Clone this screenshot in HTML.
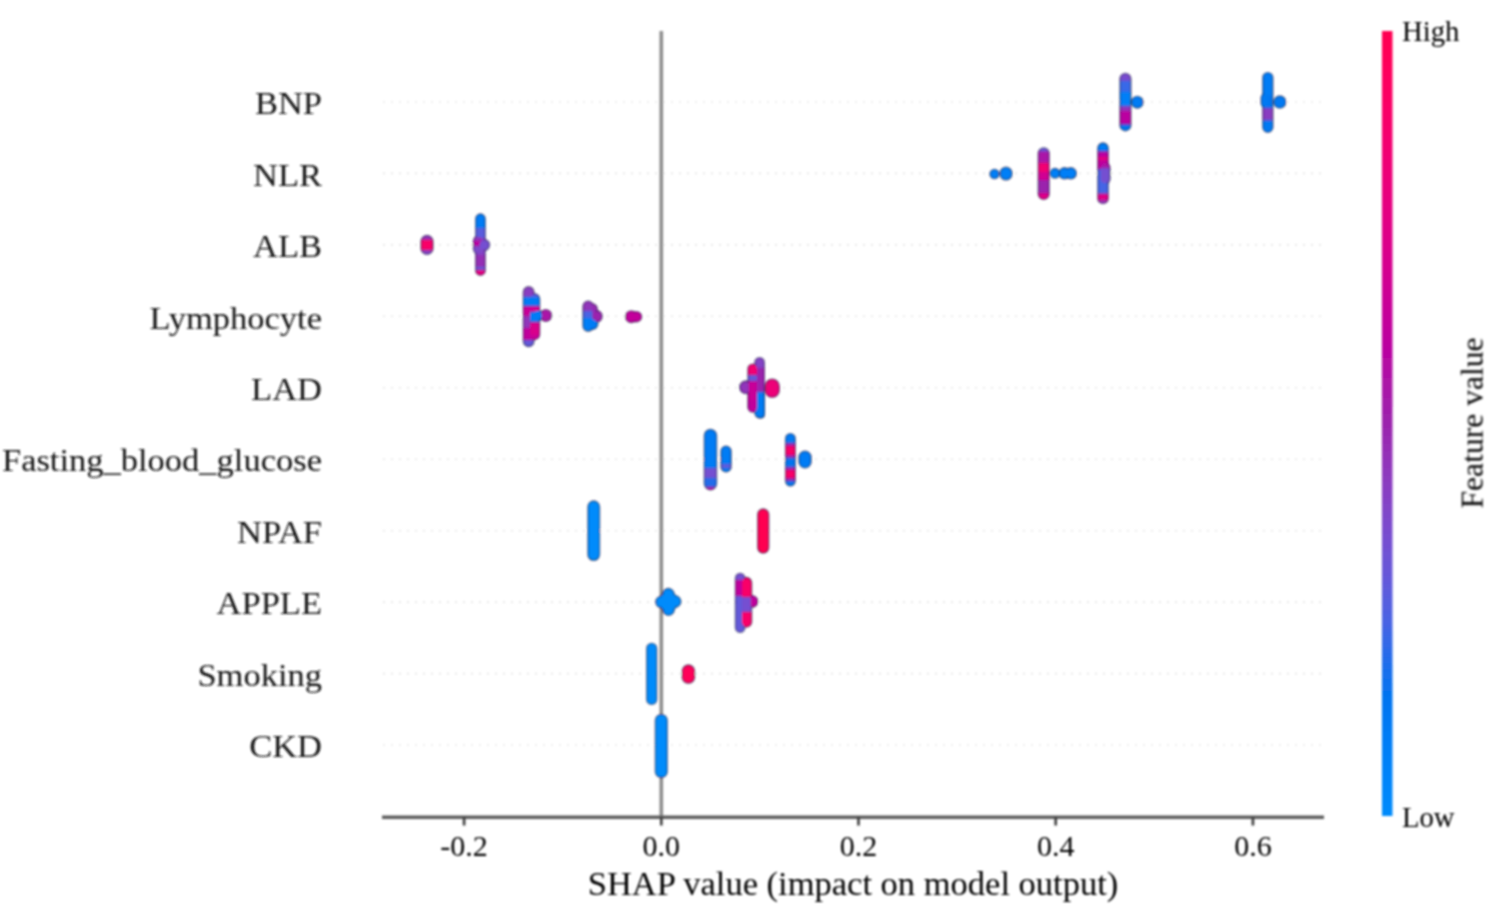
<!DOCTYPE html>
<html><head><meta charset="utf-8"><style>
html,body{margin:0;padding:0;background:#fff;}
body{width:1500px;height:920px;overflow:hidden;}
svg{display:block;font-family:"Liberation Serif",serif;}
#w{width:1500px;height:920px;}
</style></head><body><div id="w"><svg width="1500" height="920" viewBox="0 0 1500 920"><defs><filter id="bl" x="0" y="0" width="1500" height="920" filterUnits="userSpaceOnUse"><feGaussianBlur stdDeviation="1.0"/></filter></defs><rect width="1500" height="920" fill="#fff"/><g filter="url(#bl)"><line x1="383" y1="102.0" x2="1324" y2="102.0" stroke="#e6e6e6" stroke-width="1.6" stroke-dasharray="2 6"/><line x1="383" y1="173.4" x2="1324" y2="173.4" stroke="#e6e6e6" stroke-width="1.6" stroke-dasharray="2 6"/><line x1="383" y1="244.9" x2="1324" y2="244.9" stroke="#e6e6e6" stroke-width="1.6" stroke-dasharray="2 6"/><line x1="383" y1="316.3" x2="1324" y2="316.3" stroke="#e6e6e6" stroke-width="1.6" stroke-dasharray="2 6"/><line x1="383" y1="387.8" x2="1324" y2="387.8" stroke="#e6e6e6" stroke-width="1.6" stroke-dasharray="2 6"/><line x1="383" y1="459.2" x2="1324" y2="459.2" stroke="#e6e6e6" stroke-width="1.6" stroke-dasharray="2 6"/><line x1="383" y1="530.7" x2="1324" y2="530.7" stroke="#e6e6e6" stroke-width="1.6" stroke-dasharray="2 6"/><line x1="383" y1="602.1" x2="1324" y2="602.1" stroke="#e6e6e6" stroke-width="1.6" stroke-dasharray="2 6"/><line x1="383" y1="673.6" x2="1324" y2="673.6" stroke="#e6e6e6" stroke-width="1.6" stroke-dasharray="2 6"/><line x1="383" y1="745.0" x2="1324" y2="745.0" stroke="#e6e6e6" stroke-width="1.6" stroke-dasharray="2 6"/><line x1="661.3" y1="31" x2="661.3" y2="817" stroke="#8c8c8c" stroke-width="3.6"/><g><linearGradient id="g1" gradientUnits="userSpaceOnUse" x1="0" y1="72.7" x2="0" y2="131.4"><stop offset="0.0000" stop-color="#784ccf"/><stop offset="0.1158" stop-color="#784ccf"/><stop offset="0.1670" stop-color="#3769e8"/><stop offset="0.3032" stop-color="#3769e8"/><stop offset="0.3543" stop-color="#007ff7"/><stop offset="0.5417" stop-color="#007ff7"/><stop offset="0.5928" stop-color="#9135ba"/><stop offset="0.6269" stop-color="#9135ba"/><stop offset="0.6780" stop-color="#bb00a0"/><stop offset="0.8569" stop-color="#bb00a0"/><stop offset="0.9080" stop-color="#0074f0"/><stop offset="1.0000" stop-color="#0074f0"/></linearGradient><rect x="1120.10" y="73.50" width="10.60" height="57.10" rx="5.30" ry="5.30" fill="url(#g1)" stroke="rgba(0,0,60,0.6)" stroke-width="1.6"/><circle cx="1137.3" cy="102.2" r="5.70" fill="#007cf5" stroke="rgba(0,0,60,0.6)" stroke-width="1.6"/><linearGradient id="g2" gradientUnits="userSpaceOnUse" x1="0" y1="71.9" x2="0" y2="133"><stop offset="0.0000" stop-color="#007cf5"/><stop offset="0.3699" stop-color="#007cf5"/><stop offset="0.4190" stop-color="#0074f0"/><stop offset="0.5663" stop-color="#0074f0"/><stop offset="0.6154" stop-color="#893dc1"/><stop offset="0.7692" stop-color="#893dc1"/><stop offset="0.8183" stop-color="#0079f3"/><stop offset="1.0000" stop-color="#0079f3"/></linearGradient><rect x="1262.90" y="72.70" width="9.80" height="59.50" rx="4.90" ry="4.90" fill="url(#g2)" stroke="rgba(0,0,60,0.6)" stroke-width="1.6"/><linearGradient id="g3" gradientUnits="userSpaceOnUse" x1="0" y1="93" x2="0" y2="108"><stop offset="0.0000" stop-color="#0079f3"/><stop offset="1.0000" stop-color="#0079f3"/></linearGradient><rect x="1261.30" y="93.80" width="7.90" height="13.40" rx="3.95" ry="3.95" fill="url(#g3)" stroke="rgba(0,0,60,0.6)" stroke-width="1.6"/><circle cx="1279.8" cy="102" r="5.95" fill="#0079f3" stroke="rgba(0,0,60,0.6)" stroke-width="1.6"/><circle cx="994.5" cy="174" r="4.45" fill="#007ff7" stroke="rgba(0,0,60,0.6)" stroke-width="1.6"/><rect x="1000.20" y="167.40" width="11.60" height="12.40" rx="5.80" ry="5.80" fill="#007ff7" stroke="rgba(0,0,60,0.6)" stroke-width="1.6"/><linearGradient id="g4" gradientUnits="userSpaceOnUse" x1="0" y1="147.2" x2="0" y2="200.1"><stop offset="0.0000" stop-color="#6359da"/><stop offset="0.0510" stop-color="#6359da"/><stop offset="0.1078" stop-color="#ab15a7"/><stop offset="0.2703" stop-color="#ab15a7"/><stop offset="0.3270" stop-color="#f20072"/><stop offset="0.4405" stop-color="#f20072"/><stop offset="0.4972" stop-color="#d00093"/><stop offset="0.5917" stop-color="#d00093"/><stop offset="0.6484" stop-color="#9b23ad"/><stop offset="0.8431" stop-color="#9b23ad"/><stop offset="0.8998" stop-color="#e00086"/><stop offset="1.0000" stop-color="#e00086"/></linearGradient><rect x="1038.40" y="148.00" width="10.60" height="51.30" rx="5.30" ry="5.30" fill="url(#g4)" stroke="rgba(0,0,60,0.6)" stroke-width="1.6"/><circle cx="1055" cy="173.3" r="4.70" fill="#007ff7" stroke="rgba(0,0,60,0.6)" stroke-width="1.6"/><circle cx="1064.5" cy="173.3" r="5.45" fill="#007ff7" stroke="rgba(0,0,60,0.6)" stroke-width="1.6"/><circle cx="1070.8" cy="173.3" r="5.45" fill="#007ff7" stroke="rgba(0,0,60,0.6)" stroke-width="1.6"/><linearGradient id="g5" gradientUnits="userSpaceOnUse" x1="0" y1="142.3" x2="0" y2="204.3"><stop offset="0.0000" stop-color="#007cf5"/><stop offset="0.1210" stop-color="#007cf5"/><stop offset="0.1694" stop-color="#bb00a0"/><stop offset="0.2129" stop-color="#bb00a0"/><stop offset="0.2613" stop-color="#e9007c"/><stop offset="0.2613" stop-color="#e9007c"/><stop offset="0.3097" stop-color="#c0009c"/><stop offset="0.4097" stop-color="#c0009c"/><stop offset="0.4581" stop-color="#4565e5"/><stop offset="0.8048" stop-color="#4565e5"/><stop offset="0.8532" stop-color="#e00086"/><stop offset="0.9097" stop-color="#e00086"/><stop offset="0.9581" stop-color="#9135ba"/><stop offset="1.0000" stop-color="#9135ba"/></linearGradient><rect x="1097.90" y="143.10" width="10.20" height="60.40" rx="5.10" ry="5.10" fill="url(#g5)" stroke="rgba(0,0,60,0.6)" stroke-width="1.6"/><linearGradient id="g6" gradientUnits="userSpaceOnUse" x1="0" y1="162" x2="0" y2="184.7"><stop offset="0.0000" stop-color="#ab15a7"/><stop offset="0.1982" stop-color="#ab15a7"/><stop offset="0.3304" stop-color="#754fd1"/><stop offset="1.0000" stop-color="#754fd1"/></linearGradient><rect x="1099.80" y="162.80" width="10.00" height="21.10" rx="5.00" ry="5.00" fill="url(#g6)" stroke="rgba(0,0,60,0.6)" stroke-width="1.6"/><linearGradient id="g7" gradientUnits="userSpaceOnUse" x1="0" y1="234.8" x2="0" y2="255.0"><stop offset="0.0000" stop-color="#9135ba"/><stop offset="0.1733" stop-color="#9135ba"/><stop offset="0.3218" stop-color="#f90067"/><stop offset="0.6782" stop-color="#f90067"/><stop offset="0.8267" stop-color="#8443c6"/><stop offset="1.0000" stop-color="#8443c6"/></linearGradient><rect x="421.20" y="235.60" width="11.60" height="18.60" rx="5.80" ry="5.80" fill="url(#g7)" stroke="rgba(0,0,60,0.6)" stroke-width="1.6"/><linearGradient id="g8" gradientUnits="userSpaceOnUse" x1="0" y1="213.3" x2="0" y2="275.9"><stop offset="0.0000" stop-color="#007cf5"/><stop offset="0.2109" stop-color="#007cf5"/><stop offset="0.2588" stop-color="#5a5dde"/><stop offset="0.3706" stop-color="#5a5dde"/><stop offset="0.4185" stop-color="#8443c6"/><stop offset="0.6422" stop-color="#8443c6"/><stop offset="0.6901" stop-color="#952eb5"/><stop offset="0.8339" stop-color="#952eb5"/><stop offset="0.8818" stop-color="#6359da"/><stop offset="0.8818" stop-color="#6359da"/><stop offset="0.9297" stop-color="#e60080"/><stop offset="1.0000" stop-color="#e60080"/></linearGradient><rect x="475.80" y="214.10" width="9.30" height="61.00" rx="4.65" ry="4.65" fill="url(#g8)" stroke="rgba(0,0,60,0.6)" stroke-width="1.6"/><linearGradient id="g9" gradientUnits="userSpaceOnUse" x1="0" y1="235.4" x2="0" y2="254.6"><stop offset="0.0000" stop-color="#9135ba"/><stop offset="0.2135" stop-color="#9135ba"/><stop offset="0.3698" stop-color="#bb00a0"/><stop offset="0.4740" stop-color="#bb00a0"/><stop offset="0.6302" stop-color="#7e48ca"/><stop offset="1.0000" stop-color="#7e48ca"/></linearGradient><rect x="473.60" y="236.20" width="9.60" height="17.60" rx="4.80" ry="4.80" fill="url(#g9)" stroke="rgba(0,0,60,0.6)" stroke-width="1.6"/><circle cx="484" cy="245" r="5.40" fill="#754fd1" stroke="rgba(0,0,60,0.6)" stroke-width="1.6"/><linearGradient id="g10" gradientUnits="userSpaceOnUse" x1="0" y1="286.1" x2="0" y2="347.2"><stop offset="0.0000" stop-color="#893dc1"/><stop offset="0.1538" stop-color="#893dc1"/><stop offset="0.2029" stop-color="#007cf5"/><stop offset="0.3011" stop-color="#007cf5"/><stop offset="0.3502" stop-color="#c80098"/><stop offset="0.4648" stop-color="#c80098"/><stop offset="0.5139" stop-color="#9135ba"/><stop offset="0.6612" stop-color="#9135ba"/><stop offset="0.7103" stop-color="#c0009c"/><stop offset="0.8576" stop-color="#c0009c"/><stop offset="0.9067" stop-color="#6359da"/><stop offset="1.0000" stop-color="#6359da"/></linearGradient><rect x="523.50" y="286.90" width="10.30" height="59.50" rx="5.15" ry="5.15" fill="url(#g10)" stroke="rgba(0,0,60,0.6)" stroke-width="1.6"/><linearGradient id="g11" gradientUnits="userSpaceOnUse" x1="0" y1="293" x2="0" y2="340.3"><stop offset="0.0000" stop-color="#6359da"/><stop offset="0.0529" stop-color="#6359da"/><stop offset="0.1163" stop-color="#007cf5"/><stop offset="0.2431" stop-color="#007cf5"/><stop offset="0.3066" stop-color="#d5008f"/><stop offset="0.3700" stop-color="#d5008f"/><stop offset="0.4334" stop-color="#007cf5"/><stop offset="0.5814" stop-color="#007cf5"/><stop offset="0.6448" stop-color="#d9008b"/><stop offset="0.8562" stop-color="#d9008b"/><stop offset="0.9197" stop-color="#c80098"/><stop offset="1.0000" stop-color="#c80098"/></linearGradient><rect x="529.30" y="293.80" width="10.20" height="45.70" rx="5.10" ry="5.10" fill="url(#g11)" stroke="rgba(0,0,60,0.6)" stroke-width="1.6"/><circle cx="545.8" cy="315.5" r="5.70" fill="#ab15a7" stroke="rgba(0,0,60,0.6)" stroke-width="1.6"/><circle cx="537.5" cy="315.5" r="5.20" fill="#007cf5" stroke="rgba(0,0,60,0.6)" stroke-width="1.6"/><circle cx="596.3" cy="316.3" r="5.70" fill="#9b23ad" stroke="rgba(0,0,60,0.6)" stroke-width="1.6"/><circle cx="592" cy="309" r="5.20" fill="#972bb2" stroke="rgba(0,0,60,0.6)" stroke-width="1.6"/><linearGradient id="g12" gradientUnits="userSpaceOnUse" x1="0" y1="300.5" x2="0" y2="331.9"><stop offset="0.0000" stop-color="#9135ba"/><stop offset="0.2866" stop-color="#9135ba"/><stop offset="0.3822" stop-color="#4b63e3"/><stop offset="0.5096" stop-color="#4b63e3"/><stop offset="0.6051" stop-color="#007ff7"/><stop offset="1.0000" stop-color="#007ff7"/></linearGradient><rect x="583.10" y="301.30" width="10.10" height="29.80" rx="5.05" ry="5.05" fill="url(#g12)" stroke="rgba(0,0,60,0.6)" stroke-width="1.6"/><circle cx="592.5" cy="324" r="5.20" fill="#007cf5" stroke="rgba(0,0,60,0.6)" stroke-width="1.6"/><circle cx="631.3" cy="316.7" r="5.70" fill="#c3009b" stroke="rgba(0,0,60,0.6)" stroke-width="1.6"/><circle cx="636.5" cy="316.7" r="4.95" fill="#c3009b" stroke="rgba(0,0,60,0.6)" stroke-width="1.6"/><linearGradient id="g13" gradientUnits="userSpaceOnUse" x1="0" y1="356.9" x2="0" y2="418.5"><stop offset="0.0000" stop-color="#8443c6"/><stop offset="0.1558" stop-color="#8443c6"/><stop offset="0.2045" stop-color="#9b23ad"/><stop offset="0.5455" stop-color="#9b23ad"/><stop offset="0.5942" stop-color="#007cf5"/><stop offset="1.0000" stop-color="#007cf5"/></linearGradient><rect x="755.00" y="357.70" width="9.20" height="60.00" rx="4.60" ry="4.60" fill="url(#g13)" stroke="rgba(0,0,60,0.6)" stroke-width="1.6"/><circle cx="746" cy="387.3" r="6.20" fill="#9135ba" stroke="rgba(0,0,60,0.6)" stroke-width="1.6"/><linearGradient id="g14" gradientUnits="userSpaceOnUse" x1="0" y1="363.4" x2="0" y2="412.8"><stop offset="0.0000" stop-color="#f20072"/><stop offset="0.2045" stop-color="#f20072"/><stop offset="0.2652" stop-color="#6359da"/><stop offset="0.3259" stop-color="#6359da"/><stop offset="0.3866" stop-color="#c80098"/><stop offset="0.7105" stop-color="#c80098"/><stop offset="0.7713" stop-color="#c0009c"/><stop offset="1.0000" stop-color="#c0009c"/></linearGradient><rect x="748.00" y="364.20" width="9.70" height="47.80" rx="4.85" ry="4.85" fill="url(#g14)" stroke="rgba(0,0,60,0.6)" stroke-width="1.6"/><rect x="765.25" y="379.30" width="13.90" height="18.00" rx="6.95" ry="6.95" fill="#ed0078" stroke="rgba(0,0,60,0.6)" stroke-width="1.6"/><linearGradient id="g15" gradientUnits="userSpaceOnUse" x1="0" y1="392" x2="0" y2="418.5"><stop offset="0.0000" stop-color="#007cf5"/><stop offset="1.0000" stop-color="#007cf5"/></linearGradient><rect x="757.80" y="392.80" width="6.40" height="24.90" rx="3.20" ry="3.20" fill="url(#g15)" stroke="rgba(0,0,60,0.6)" stroke-width="1.6"/><linearGradient id="g16" gradientUnits="userSpaceOnUse" x1="0" y1="428.7" x2="0" y2="490.4"><stop offset="0.0000" stop-color="#007cf5"/><stop offset="0.6126" stop-color="#007cf5"/><stop offset="0.6613" stop-color="#754fd1"/><stop offset="0.7747" stop-color="#754fd1"/><stop offset="0.8233" stop-color="#236cea"/><stop offset="0.9206" stop-color="#236cea"/><stop offset="0.9692" stop-color="#bb00a0"/><stop offset="1.0000" stop-color="#bb00a0"/></linearGradient><rect x="704.50" y="429.50" width="11.90" height="60.10" rx="5.95" ry="5.95" fill="url(#g16)" stroke="rgba(0,0,60,0.6)" stroke-width="1.6"/><linearGradient id="g17" gradientUnits="userSpaceOnUse" x1="0" y1="445.5" x2="0" y2="472.5"><stop offset="0.0000" stop-color="#007cf5"/><stop offset="0.6296" stop-color="#007cf5"/><stop offset="0.7407" stop-color="#6359da"/><stop offset="0.7778" stop-color="#6359da"/><stop offset="0.8889" stop-color="#0079f3"/><stop offset="1.0000" stop-color="#0079f3"/></linearGradient><rect x="721.10" y="446.30" width="9.90" height="25.40" rx="4.95" ry="4.95" fill="url(#g17)" stroke="rgba(0,0,60,0.6)" stroke-width="1.6"/><linearGradient id="g18" gradientUnits="userSpaceOnUse" x1="0" y1="433" x2="0" y2="486.6"><stop offset="0.0000" stop-color="#0079f3"/><stop offset="0.1586" stop-color="#0079f3"/><stop offset="0.2146" stop-color="#9b23ad"/><stop offset="0.2146" stop-color="#9b23ad"/><stop offset="0.2705" stop-color="#f90067"/><stop offset="0.3825" stop-color="#f90067"/><stop offset="0.4384" stop-color="#9b23ad"/><stop offset="0.4384" stop-color="#9b23ad"/><stop offset="0.4944" stop-color="#0074f0"/><stop offset="0.6063" stop-color="#0074f0"/><stop offset="0.6623" stop-color="#9b23ad"/><stop offset="0.6623" stop-color="#9b23ad"/><stop offset="0.7183" stop-color="#f90067"/><stop offset="0.8116" stop-color="#f90067"/><stop offset="0.8675" stop-color="#9b23ad"/><stop offset="0.8675" stop-color="#9b23ad"/><stop offset="0.9235" stop-color="#0074f0"/><stop offset="1.0000" stop-color="#0074f0"/></linearGradient><rect x="785.70" y="433.80" width="9.40" height="52.00" rx="4.70" ry="4.70" fill="url(#g18)" stroke="rgba(0,0,60,0.6)" stroke-width="1.6"/><rect x="799.05" y="451.30" width="11.90" height="16.40" rx="5.95" ry="5.95" fill="#007cf5" stroke="rgba(0,0,60,0.6)" stroke-width="1.6"/><linearGradient id="g19" gradientUnits="userSpaceOnUse" x1="0" y1="500.3" x2="0" y2="561.1"><stop offset="0.0000" stop-color="#008bfb"/><stop offset="1.0000" stop-color="#008bfb"/></linearGradient><rect x="588.00" y="501.10" width="11.40" height="59.20" rx="5.70" ry="5.70" fill="url(#g19)" stroke="rgba(0,0,60,0.6)" stroke-width="1.6"/><linearGradient id="g20" gradientUnits="userSpaceOnUse" x1="0" y1="508.3" x2="0" y2="553.8"><stop offset="0.0000" stop-color="#ff0051"/><stop offset="1.0000" stop-color="#ff0051"/></linearGradient><rect x="757.80" y="509.10" width="10.80" height="43.90" rx="5.40" ry="5.40" fill="url(#g20)" stroke="rgba(0,0,60,0.6)" stroke-width="1.6"/><circle cx="668.3" cy="594.3" r="5.70" fill="#008bfb" stroke="rgba(0,0,60,0.6)" stroke-width="1.6"/><circle cx="661.5" cy="602" r="5.70" fill="#008bfb" stroke="rgba(0,0,60,0.6)" stroke-width="1.6"/><circle cx="675" cy="601.5" r="5.70" fill="#008bfb" stroke="rgba(0,0,60,0.6)" stroke-width="1.6"/><circle cx="668.5" cy="609.5" r="5.70" fill="#008bfb" stroke="rgba(0,0,60,0.6)" stroke-width="1.6"/><circle cx="668.3" cy="602" r="5.70" fill="#008bfb" stroke="rgba(0,0,60,0.6)" stroke-width="1.6"/><circle cx="664.5" cy="598" r="4.20" fill="#008bfb" stroke="rgba(0,0,60,0.6)" stroke-width="1.6"/><circle cx="672" cy="598" r="4.20" fill="#008bfb" stroke="rgba(0,0,60,0.6)" stroke-width="1.6"/><circle cx="664.8" cy="605.8" r="4.20" fill="#008bfb" stroke="rgba(0,0,60,0.6)" stroke-width="1.6"/><circle cx="671.8" cy="605.5" r="4.20" fill="#008bfb" stroke="rgba(0,0,60,0.6)" stroke-width="1.6"/><linearGradient id="g21" gradientUnits="userSpaceOnUse" x1="0" y1="572.7" x2="0" y2="633"><stop offset="0.0000" stop-color="#754fd1"/><stop offset="0.0962" stop-color="#754fd1"/><stop offset="0.1459" stop-color="#c0009c"/><stop offset="0.3615" stop-color="#c0009c"/><stop offset="0.4113" stop-color="#6359da"/><stop offset="1.0000" stop-color="#6359da"/></linearGradient><rect x="735.60" y="573.50" width="9.10" height="58.70" rx="4.55" ry="4.55" fill="url(#g21)" stroke="rgba(0,0,60,0.6)" stroke-width="1.6"/><circle cx="752" cy="601.5" r="5.70" fill="#c0009c" stroke="rgba(0,0,60,0.6)" stroke-width="1.6"/><linearGradient id="g22" gradientUnits="userSpaceOnUse" x1="0" y1="576.8" x2="0" y2="627.8"><stop offset="0.0000" stop-color="#f90067"/><stop offset="0.3667" stop-color="#f90067"/><stop offset="0.4255" stop-color="#754fd1"/><stop offset="0.6608" stop-color="#754fd1"/><stop offset="0.7196" stop-color="#f90067"/><stop offset="1.0000" stop-color="#f90067"/></linearGradient><rect x="741.30" y="577.60" width="10.20" height="49.40" rx="5.10" ry="5.10" fill="url(#g22)" stroke="rgba(0,0,60,0.6)" stroke-width="1.6"/><linearGradient id="g23" gradientUnits="userSpaceOnUse" x1="0" y1="642.7" x2="0" y2="705.1"><stop offset="0.0000" stop-color="#008bfb"/><stop offset="1.0000" stop-color="#008bfb"/></linearGradient><rect x="646.80" y="643.50" width="9.80" height="60.80" rx="4.90" ry="4.90" fill="url(#g23)" stroke="rgba(0,0,60,0.6)" stroke-width="1.6"/><linearGradient id="g24" gradientUnits="userSpaceOnUse" x1="0" y1="664.3" x2="0" y2="683.9"><stop offset="0.0000" stop-color="#ff0058"/><stop offset="1.0000" stop-color="#ff0058"/></linearGradient><rect x="682.30" y="665.10" width="12.20" height="18.00" rx="6.10" ry="6.10" fill="url(#g24)" stroke="rgba(0,0,60,0.6)" stroke-width="1.6"/><linearGradient id="g25" gradientUnits="userSpaceOnUse" x1="0" y1="713.7" x2="0" y2="778.3"><stop offset="0.0000" stop-color="#008bfb"/><stop offset="1.0000" stop-color="#008bfb"/></linearGradient><rect x="655.50" y="714.50" width="11.60" height="63.00" rx="5.80" ry="5.80" fill="url(#g25)" stroke="rgba(0,0,60,0.6)" stroke-width="1.6"/><linearGradient id="g26" gradientUnits="userSpaceOnUse" x1="0" y1="72.7" x2="0" y2="131.4"><stop offset="0.0000" stop-color="#784ccf"/><stop offset="0.1158" stop-color="#784ccf"/><stop offset="0.1670" stop-color="#3769e8"/><stop offset="0.3032" stop-color="#3769e8"/><stop offset="0.3543" stop-color="#007ff7"/><stop offset="0.5417" stop-color="#007ff7"/><stop offset="0.5928" stop-color="#9135ba"/><stop offset="0.6269" stop-color="#9135ba"/><stop offset="0.6780" stop-color="#bb00a0"/><stop offset="0.8569" stop-color="#bb00a0"/><stop offset="0.9080" stop-color="#0074f0"/><stop offset="1.0000" stop-color="#0074f0"/></linearGradient><rect x="1120.90" y="74.30" width="9.00" height="55.50" rx="4.50" ry="4.50" fill="url(#g26)"/><circle cx="1137.3" cy="102.2" r="4.90" fill="#007cf5"/><linearGradient id="g27" gradientUnits="userSpaceOnUse" x1="0" y1="71.9" x2="0" y2="133"><stop offset="0.0000" stop-color="#007cf5"/><stop offset="0.3699" stop-color="#007cf5"/><stop offset="0.4190" stop-color="#0074f0"/><stop offset="0.5663" stop-color="#0074f0"/><stop offset="0.6154" stop-color="#893dc1"/><stop offset="0.7692" stop-color="#893dc1"/><stop offset="0.8183" stop-color="#0079f3"/><stop offset="1.0000" stop-color="#0079f3"/></linearGradient><rect x="1263.70" y="73.50" width="8.20" height="57.90" rx="4.10" ry="4.10" fill="url(#g27)"/><linearGradient id="g28" gradientUnits="userSpaceOnUse" x1="0" y1="93" x2="0" y2="108"><stop offset="0.0000" stop-color="#0079f3"/><stop offset="1.0000" stop-color="#0079f3"/></linearGradient><rect x="1262.10" y="94.60" width="6.30" height="11.80" rx="3.15" ry="3.15" fill="url(#g28)"/><circle cx="1279.8" cy="102" r="5.15" fill="#0079f3"/><circle cx="994.5" cy="174" r="3.65" fill="#007ff7"/><rect x="1001.00" y="168.20" width="10.00" height="10.80" rx="5.00" ry="5.00" fill="#007ff7"/><linearGradient id="g29" gradientUnits="userSpaceOnUse" x1="0" y1="147.2" x2="0" y2="200.1"><stop offset="0.0000" stop-color="#6359da"/><stop offset="0.0510" stop-color="#6359da"/><stop offset="0.1078" stop-color="#ab15a7"/><stop offset="0.2703" stop-color="#ab15a7"/><stop offset="0.3270" stop-color="#f20072"/><stop offset="0.4405" stop-color="#f20072"/><stop offset="0.4972" stop-color="#d00093"/><stop offset="0.5917" stop-color="#d00093"/><stop offset="0.6484" stop-color="#9b23ad"/><stop offset="0.8431" stop-color="#9b23ad"/><stop offset="0.8998" stop-color="#e00086"/><stop offset="1.0000" stop-color="#e00086"/></linearGradient><rect x="1039.20" y="148.80" width="9.00" height="49.70" rx="4.50" ry="4.50" fill="url(#g29)"/><circle cx="1055" cy="173.3" r="3.90" fill="#007ff7"/><circle cx="1064.5" cy="173.3" r="4.65" fill="#007ff7"/><circle cx="1070.8" cy="173.3" r="4.65" fill="#007ff7"/><linearGradient id="g30" gradientUnits="userSpaceOnUse" x1="0" y1="142.3" x2="0" y2="204.3"><stop offset="0.0000" stop-color="#007cf5"/><stop offset="0.1210" stop-color="#007cf5"/><stop offset="0.1694" stop-color="#bb00a0"/><stop offset="0.2129" stop-color="#bb00a0"/><stop offset="0.2613" stop-color="#e9007c"/><stop offset="0.2613" stop-color="#e9007c"/><stop offset="0.3097" stop-color="#c0009c"/><stop offset="0.4097" stop-color="#c0009c"/><stop offset="0.4581" stop-color="#4565e5"/><stop offset="0.8048" stop-color="#4565e5"/><stop offset="0.8532" stop-color="#e00086"/><stop offset="0.9097" stop-color="#e00086"/><stop offset="0.9581" stop-color="#9135ba"/><stop offset="1.0000" stop-color="#9135ba"/></linearGradient><rect x="1098.70" y="143.90" width="8.60" height="58.80" rx="4.30" ry="4.30" fill="url(#g30)"/><linearGradient id="g31" gradientUnits="userSpaceOnUse" x1="0" y1="162" x2="0" y2="184.7"><stop offset="0.0000" stop-color="#ab15a7"/><stop offset="0.1982" stop-color="#ab15a7"/><stop offset="0.3304" stop-color="#754fd1"/><stop offset="1.0000" stop-color="#754fd1"/></linearGradient><rect x="1100.60" y="163.60" width="8.40" height="19.50" rx="4.20" ry="4.20" fill="url(#g31)"/><linearGradient id="g32" gradientUnits="userSpaceOnUse" x1="0" y1="234.8" x2="0" y2="255.0"><stop offset="0.0000" stop-color="#9135ba"/><stop offset="0.1733" stop-color="#9135ba"/><stop offset="0.3218" stop-color="#f90067"/><stop offset="0.6782" stop-color="#f90067"/><stop offset="0.8267" stop-color="#8443c6"/><stop offset="1.0000" stop-color="#8443c6"/></linearGradient><rect x="422.00" y="236.40" width="10.00" height="17.00" rx="5.00" ry="5.00" fill="url(#g32)"/><linearGradient id="g33" gradientUnits="userSpaceOnUse" x1="0" y1="213.3" x2="0" y2="275.9"><stop offset="0.0000" stop-color="#007cf5"/><stop offset="0.2109" stop-color="#007cf5"/><stop offset="0.2588" stop-color="#5a5dde"/><stop offset="0.3706" stop-color="#5a5dde"/><stop offset="0.4185" stop-color="#8443c6"/><stop offset="0.6422" stop-color="#8443c6"/><stop offset="0.6901" stop-color="#952eb5"/><stop offset="0.8339" stop-color="#952eb5"/><stop offset="0.8818" stop-color="#6359da"/><stop offset="0.8818" stop-color="#6359da"/><stop offset="0.9297" stop-color="#e60080"/><stop offset="1.0000" stop-color="#e60080"/></linearGradient><rect x="476.60" y="214.90" width="7.70" height="59.40" rx="3.85" ry="3.85" fill="url(#g33)"/><linearGradient id="g34" gradientUnits="userSpaceOnUse" x1="0" y1="235.4" x2="0" y2="254.6"><stop offset="0.0000" stop-color="#9135ba"/><stop offset="0.2135" stop-color="#9135ba"/><stop offset="0.3698" stop-color="#bb00a0"/><stop offset="0.4740" stop-color="#bb00a0"/><stop offset="0.6302" stop-color="#7e48ca"/><stop offset="1.0000" stop-color="#7e48ca"/></linearGradient><rect x="474.40" y="237.00" width="8.00" height="16.00" rx="4.00" ry="4.00" fill="url(#g34)"/><circle cx="484" cy="245" r="4.60" fill="#754fd1"/><linearGradient id="g35" gradientUnits="userSpaceOnUse" x1="0" y1="286.1" x2="0" y2="347.2"><stop offset="0.0000" stop-color="#893dc1"/><stop offset="0.1538" stop-color="#893dc1"/><stop offset="0.2029" stop-color="#007cf5"/><stop offset="0.3011" stop-color="#007cf5"/><stop offset="0.3502" stop-color="#c80098"/><stop offset="0.4648" stop-color="#c80098"/><stop offset="0.5139" stop-color="#9135ba"/><stop offset="0.6612" stop-color="#9135ba"/><stop offset="0.7103" stop-color="#c0009c"/><stop offset="0.8576" stop-color="#c0009c"/><stop offset="0.9067" stop-color="#6359da"/><stop offset="1.0000" stop-color="#6359da"/></linearGradient><rect x="524.30" y="287.70" width="8.70" height="57.90" rx="4.35" ry="4.35" fill="url(#g35)"/><linearGradient id="g36" gradientUnits="userSpaceOnUse" x1="0" y1="293" x2="0" y2="340.3"><stop offset="0.0000" stop-color="#6359da"/><stop offset="0.0529" stop-color="#6359da"/><stop offset="0.1163" stop-color="#007cf5"/><stop offset="0.2431" stop-color="#007cf5"/><stop offset="0.3066" stop-color="#d5008f"/><stop offset="0.3700" stop-color="#d5008f"/><stop offset="0.4334" stop-color="#007cf5"/><stop offset="0.5814" stop-color="#007cf5"/><stop offset="0.6448" stop-color="#d9008b"/><stop offset="0.8562" stop-color="#d9008b"/><stop offset="0.9197" stop-color="#c80098"/><stop offset="1.0000" stop-color="#c80098"/></linearGradient><rect x="530.10" y="294.60" width="8.60" height="44.10" rx="4.30" ry="4.30" fill="url(#g36)"/><circle cx="545.8" cy="315.5" r="4.90" fill="#ab15a7"/><circle cx="537.5" cy="315.5" r="4.40" fill="#007cf5"/><circle cx="596.3" cy="316.3" r="4.90" fill="#9b23ad"/><circle cx="592" cy="309" r="4.40" fill="#972bb2"/><linearGradient id="g37" gradientUnits="userSpaceOnUse" x1="0" y1="300.5" x2="0" y2="331.9"><stop offset="0.0000" stop-color="#9135ba"/><stop offset="0.2866" stop-color="#9135ba"/><stop offset="0.3822" stop-color="#4b63e3"/><stop offset="0.5096" stop-color="#4b63e3"/><stop offset="0.6051" stop-color="#007ff7"/><stop offset="1.0000" stop-color="#007ff7"/></linearGradient><rect x="583.90" y="302.10" width="8.50" height="28.20" rx="4.25" ry="4.25" fill="url(#g37)"/><circle cx="592.5" cy="324" r="4.40" fill="#007cf5"/><circle cx="631.3" cy="316.7" r="4.90" fill="#c3009b"/><circle cx="636.5" cy="316.7" r="4.15" fill="#c3009b"/><linearGradient id="g38" gradientUnits="userSpaceOnUse" x1="0" y1="356.9" x2="0" y2="418.5"><stop offset="0.0000" stop-color="#8443c6"/><stop offset="0.1558" stop-color="#8443c6"/><stop offset="0.2045" stop-color="#9b23ad"/><stop offset="0.5455" stop-color="#9b23ad"/><stop offset="0.5942" stop-color="#007cf5"/><stop offset="1.0000" stop-color="#007cf5"/></linearGradient><rect x="755.80" y="358.50" width="7.60" height="58.40" rx="3.80" ry="3.80" fill="url(#g38)"/><circle cx="746" cy="387.3" r="5.40" fill="#9135ba"/><linearGradient id="g39" gradientUnits="userSpaceOnUse" x1="0" y1="363.4" x2="0" y2="412.8"><stop offset="0.0000" stop-color="#f20072"/><stop offset="0.2045" stop-color="#f20072"/><stop offset="0.2652" stop-color="#6359da"/><stop offset="0.3259" stop-color="#6359da"/><stop offset="0.3866" stop-color="#c80098"/><stop offset="0.7105" stop-color="#c80098"/><stop offset="0.7713" stop-color="#c0009c"/><stop offset="1.0000" stop-color="#c0009c"/></linearGradient><rect x="748.80" y="365.00" width="8.10" height="46.20" rx="4.05" ry="4.05" fill="url(#g39)"/><rect x="766.05" y="380.10" width="12.30" height="16.40" rx="6.15" ry="6.15" fill="#ed0078"/><linearGradient id="g40" gradientUnits="userSpaceOnUse" x1="0" y1="392" x2="0" y2="418.5"><stop offset="0.0000" stop-color="#007cf5"/><stop offset="1.0000" stop-color="#007cf5"/></linearGradient><rect x="758.60" y="393.60" width="4.80" height="23.30" rx="2.40" ry="2.40" fill="url(#g40)"/><linearGradient id="g41" gradientUnits="userSpaceOnUse" x1="0" y1="428.7" x2="0" y2="490.4"><stop offset="0.0000" stop-color="#007cf5"/><stop offset="0.6126" stop-color="#007cf5"/><stop offset="0.6613" stop-color="#754fd1"/><stop offset="0.7747" stop-color="#754fd1"/><stop offset="0.8233" stop-color="#236cea"/><stop offset="0.9206" stop-color="#236cea"/><stop offset="0.9692" stop-color="#bb00a0"/><stop offset="1.0000" stop-color="#bb00a0"/></linearGradient><rect x="705.30" y="430.30" width="10.30" height="58.50" rx="5.15" ry="5.15" fill="url(#g41)"/><linearGradient id="g42" gradientUnits="userSpaceOnUse" x1="0" y1="445.5" x2="0" y2="472.5"><stop offset="0.0000" stop-color="#007cf5"/><stop offset="0.6296" stop-color="#007cf5"/><stop offset="0.7407" stop-color="#6359da"/><stop offset="0.7778" stop-color="#6359da"/><stop offset="0.8889" stop-color="#0079f3"/><stop offset="1.0000" stop-color="#0079f3"/></linearGradient><rect x="721.90" y="447.10" width="8.30" height="23.80" rx="4.15" ry="4.15" fill="url(#g42)"/><linearGradient id="g43" gradientUnits="userSpaceOnUse" x1="0" y1="433" x2="0" y2="486.6"><stop offset="0.0000" stop-color="#0079f3"/><stop offset="0.1586" stop-color="#0079f3"/><stop offset="0.2146" stop-color="#9b23ad"/><stop offset="0.2146" stop-color="#9b23ad"/><stop offset="0.2705" stop-color="#f90067"/><stop offset="0.3825" stop-color="#f90067"/><stop offset="0.4384" stop-color="#9b23ad"/><stop offset="0.4384" stop-color="#9b23ad"/><stop offset="0.4944" stop-color="#0074f0"/><stop offset="0.6063" stop-color="#0074f0"/><stop offset="0.6623" stop-color="#9b23ad"/><stop offset="0.6623" stop-color="#9b23ad"/><stop offset="0.7183" stop-color="#f90067"/><stop offset="0.8116" stop-color="#f90067"/><stop offset="0.8675" stop-color="#9b23ad"/><stop offset="0.8675" stop-color="#9b23ad"/><stop offset="0.9235" stop-color="#0074f0"/><stop offset="1.0000" stop-color="#0074f0"/></linearGradient><rect x="786.50" y="434.60" width="7.80" height="50.40" rx="3.90" ry="3.90" fill="url(#g43)"/><rect x="799.85" y="452.10" width="10.30" height="14.80" rx="5.15" ry="5.15" fill="#007cf5"/><linearGradient id="g44" gradientUnits="userSpaceOnUse" x1="0" y1="500.3" x2="0" y2="561.1"><stop offset="0.0000" stop-color="#008bfb"/><stop offset="1.0000" stop-color="#008bfb"/></linearGradient><rect x="588.80" y="501.90" width="9.80" height="57.60" rx="4.90" ry="4.90" fill="url(#g44)"/><linearGradient id="g45" gradientUnits="userSpaceOnUse" x1="0" y1="508.3" x2="0" y2="553.8"><stop offset="0.0000" stop-color="#ff0051"/><stop offset="1.0000" stop-color="#ff0051"/></linearGradient><rect x="758.60" y="509.90" width="9.20" height="42.30" rx="4.60" ry="4.60" fill="url(#g45)"/><circle cx="668.3" cy="594.3" r="4.90" fill="#008bfb"/><circle cx="661.5" cy="602" r="4.90" fill="#008bfb"/><circle cx="675" cy="601.5" r="4.90" fill="#008bfb"/><circle cx="668.5" cy="609.5" r="4.90" fill="#008bfb"/><circle cx="668.3" cy="602" r="4.90" fill="#008bfb"/><circle cx="664.5" cy="598" r="3.40" fill="#008bfb"/><circle cx="672" cy="598" r="3.40" fill="#008bfb"/><circle cx="664.8" cy="605.8" r="3.40" fill="#008bfb"/><circle cx="671.8" cy="605.5" r="3.40" fill="#008bfb"/><linearGradient id="g46" gradientUnits="userSpaceOnUse" x1="0" y1="572.7" x2="0" y2="633"><stop offset="0.0000" stop-color="#754fd1"/><stop offset="0.0962" stop-color="#754fd1"/><stop offset="0.1459" stop-color="#c0009c"/><stop offset="0.3615" stop-color="#c0009c"/><stop offset="0.4113" stop-color="#6359da"/><stop offset="1.0000" stop-color="#6359da"/></linearGradient><rect x="736.40" y="574.30" width="7.50" height="57.10" rx="3.75" ry="3.75" fill="url(#g46)"/><circle cx="752" cy="601.5" r="4.90" fill="#c0009c"/><linearGradient id="g47" gradientUnits="userSpaceOnUse" x1="0" y1="576.8" x2="0" y2="627.8"><stop offset="0.0000" stop-color="#f90067"/><stop offset="0.3667" stop-color="#f90067"/><stop offset="0.4255" stop-color="#754fd1"/><stop offset="0.6608" stop-color="#754fd1"/><stop offset="0.7196" stop-color="#f90067"/><stop offset="1.0000" stop-color="#f90067"/></linearGradient><rect x="742.10" y="578.40" width="8.60" height="47.80" rx="4.30" ry="4.30" fill="url(#g47)"/><linearGradient id="g48" gradientUnits="userSpaceOnUse" x1="0" y1="642.7" x2="0" y2="705.1"><stop offset="0.0000" stop-color="#008bfb"/><stop offset="1.0000" stop-color="#008bfb"/></linearGradient><rect x="647.60" y="644.30" width="8.20" height="59.20" rx="4.10" ry="4.10" fill="url(#g48)"/><linearGradient id="g49" gradientUnits="userSpaceOnUse" x1="0" y1="664.3" x2="0" y2="683.9"><stop offset="0.0000" stop-color="#ff0058"/><stop offset="1.0000" stop-color="#ff0058"/></linearGradient><rect x="683.10" y="665.90" width="10.60" height="16.40" rx="5.30" ry="5.30" fill="url(#g49)"/><linearGradient id="g50" gradientUnits="userSpaceOnUse" x1="0" y1="713.7" x2="0" y2="778.3"><stop offset="0.0000" stop-color="#008bfb"/><stop offset="1.0000" stop-color="#008bfb"/></linearGradient><rect x="656.30" y="715.30" width="10.00" height="61.40" rx="5.00" ry="5.00" fill="url(#g50)"/></g><line x1="382" y1="817.2" x2="1324" y2="817.2" stroke="#5c5c5c" stroke-width="3.6"/><line x1="464.1" y1="817" x2="464.1" y2="825.5" stroke="#3a3a3a" stroke-width="2.6"/><text x="464.1" y="856" text-anchor="middle" font-size="30" fill="#000">-0.2</text><line x1="661.3" y1="817" x2="661.3" y2="825.5" stroke="#3a3a3a" stroke-width="2.6"/><text x="661.3" y="856" text-anchor="middle" font-size="30" fill="#000">0.0</text><line x1="858.5" y1="817" x2="858.5" y2="825.5" stroke="#3a3a3a" stroke-width="2.6"/><text x="858.5" y="856" text-anchor="middle" font-size="30" fill="#000">0.2</text><line x1="1055.7" y1="817" x2="1055.7" y2="825.5" stroke="#3a3a3a" stroke-width="2.6"/><text x="1055.7" y="856" text-anchor="middle" font-size="30" fill="#000">0.4</text><line x1="1252.9" y1="817" x2="1252.9" y2="825.5" stroke="#3a3a3a" stroke-width="2.6"/><text x="1252.9" y="856" text-anchor="middle" font-size="30" fill="#000">0.6</text><text transform="translate(322,114.3) scale(0.986,0.93)" text-anchor="end" font-size="35" fill="#141414">BNP</text><text transform="translate(322,185.7) scale(0.986,0.93)" text-anchor="end" font-size="35" fill="#141414">NLR</text><text transform="translate(322,257.2) scale(0.986,0.93)" text-anchor="end" font-size="35" fill="#141414">ALB</text><text transform="translate(322,328.6) scale(0.986,0.93)" text-anchor="end" font-size="35" fill="#141414">Lymphocyte</text><text transform="translate(322,400.1) scale(0.986,0.93)" text-anchor="end" font-size="35" fill="#141414">LAD</text><text transform="translate(322,471.5) scale(0.986,0.93)" text-anchor="end" font-size="35" fill="#141414">Fasting_blood_glucose</text><text transform="translate(322,543.0) scale(0.986,0.93)" text-anchor="end" font-size="35" fill="#141414">NPAF</text><text transform="translate(322,614.4) scale(0.986,0.93)" text-anchor="end" font-size="35" fill="#141414">APPLE</text><text transform="translate(322,685.9) scale(0.986,0.93)" text-anchor="end" font-size="35" fill="#141414">Smoking</text><text transform="translate(322,757.3) scale(0.986,0.93)" text-anchor="end" font-size="35" fill="#141414">CKD</text><text x="853" y="895" text-anchor="middle" font-size="34.5" fill="#000">SHAP value (impact on model output)</text><defs><linearGradient id="cb" x1="0" y1="1" x2="0" y2="0"><stop offset="0.00" stop-color="#008bfb"/><stop offset="0.05" stop-color="#0084f9"/><stop offset="0.10" stop-color="#007cf5"/><stop offset="0.15" stop-color="#0074f0"/><stop offset="0.20" stop-color="#236cea"/><stop offset="0.25" stop-color="#4b63e3"/><stop offset="0.30" stop-color="#6359da"/><stop offset="0.35" stop-color="#754fd1"/><stop offset="0.40" stop-color="#8443c6"/><stop offset="0.45" stop-color="#9135ba"/><stop offset="0.50" stop-color="#9b23ad"/><stop offset="0.55" stop-color="#ab15a7"/><stop offset="0.60" stop-color="#bb00a0"/><stop offset="0.65" stop-color="#c80098"/><stop offset="0.70" stop-color="#d5008f"/><stop offset="0.75" stop-color="#e00086"/><stop offset="0.80" stop-color="#e9007c"/><stop offset="0.85" stop-color="#f20072"/><stop offset="0.90" stop-color="#f90067"/><stop offset="0.95" stop-color="#fe005c"/><stop offset="1.00" stop-color="#ff0051"/></linearGradient></defs><rect x="1382" y="31" width="10.5" height="785" fill="url(#cb)"/><text x="1402" y="41.3" font-size="28.7" fill="#000">High</text><text x="1402" y="826.8" font-size="28.7" fill="#000">Low</text><text transform="translate(1482.2,508.5) rotate(-90) scale(0.958,0.95)" font-size="33" fill="#000">Feature value</text></g></svg></div></body></html>
